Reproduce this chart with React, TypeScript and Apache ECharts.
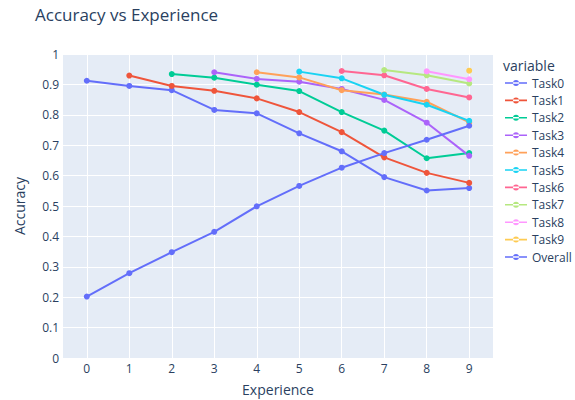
import React, { useEffect, useRef } from "react";
import * as echarts from "echarts";

const experience = [0, 1, 2, 3, 4, 5, 6, 7, 8, 9];
const yTicks = [0, 0.1, 0.2, 0.3, 0.4, 0.5, 0.6, 0.7, 0.8, 0.9, 1];

const task0 = [0.912, 0.895, 0.881, 0.816, 0.805, 0.739, 0.68, 0.595, 0.551, 0.559];
const task1 = [0.929, 0.895, 0.879, 0.854, 0.809, 0.743, 0.66, 0.609, 0.576];
const task2 = [0.934, 0.922, 0.899, 0.878, 0.809, 0.748, 0.657, 0.674];
const task3 = [0.94, 0.918, 0.909, 0.885, 0.849, 0.774, 0.665];
const task4 = [0.94, 0.923, 0.881, 0.867, 0.843, 0.775];
const task5 = [0.942, 0.92, 0.866, 0.833, 0.78];
const task6 = [0.944, 0.93, 0.885, 0.857];
const task7 = [0.947, 0.93, 0.903];
const task8 = [0.943, 0.917];
const task9 = [0.945];
const overall = [0.202, 0.279, 0.348, 0.415, 0.499, 0.566, 0.626, 0.674, 0.718, 0.764];

const seriesNames = ["Task0", "Task1", "Task2", "Task3", "Task4", "Task5", "Task6", "Task7", "Task8", "Task9", "Overall"];
const seriesValues = [task0, task1, task2, task3, task4, task5, task6, task7, task8, task9, overall];
const seriesStart = [0, 1, 2, 3, 4, 5, 6, 7, 8, 9, 0];
const colors = ["#636EFA", "#EF553B", "#00CC96", "#AB63FA", "#FFA15A", "#19D3F3", "#FF6692", "#B6E880", "#FF97FF", "#FECB52", "#636EFA"];

const FONT = "'Open Sans', verdana, arial, sans-serif";
const TEXT = "#2a3f5f";
const LEGEND_ICON = "path://M0,2.2 L22,2.2 L22,3.8 L0,3.8 Z M8,3 A3,3 0 1,0 14,3 A3,3 0 1,0 8,3 Z";

export default function App() {
  const ref = useRef<HTMLDivElement>(null);
  useEffect(() => {
    document.body.style.margin = "0";
    if (!ref.current) return;
    const chart = echarts.init(ref.current, undefined, { renderer: "svg" });
    const series = seriesNames.map((name, i) => ({
      name,
      type: "line",
      data: seriesValues[i].map((v, j) => [experience[seriesStart[i] + j], v]),
      symbol: "circle",
      symbolSize: 6,
      showSymbol: true,
      lineStyle: { width: 2, color: colors[i] },
      itemStyle: { color: colors[i] },
      emphasis: { disabled: true },
    }));
    chart.setOption({
      animation: false,
      textStyle: { fontFamily: FONT },
      title: {
        text: "Accuracy vs Experience",
        left: 30,
        top: 1,
        textStyle: { fontFamily: FONT, fontSize: 17, fontWeight: "normal", color: TEXT },
      },
      graphic: [
        {
          type: "text",
          left: 503,
          top: 58,
          style: { text: "variable", fontFamily: FONT, fontSize: 14, fill: TEXT },
        },
      ],
      legend: {
        orient: "vertical",
        left: 505,
        top: 77,
        padding: 0,
        itemGap: 5.4,
        itemWidth: 22,
        itemHeight: 6,
        icon: LEGEND_ICON,
        data: seriesNames,
        textStyle: { fontFamily: FONT, fontSize: 12, color: TEXT },
        selectedMode: false,
      },
      grid: {
        left: 63,
        right: 82,
        top: 54,
        bottom: 42,
        outerBoundsMode: "none",
        containLabel: false,
        show: true,
        backgroundColor: "#E5ECF6",
        borderWidth: 0,
      },
      xAxis: {
        type: "value",
        min: -0.56,
        max: 9.56,
        name: "Experience",
        nameLocation: "middle",
        nameGap: 24,
        nameTextStyle: { fontFamily: FONT, fontSize: 14, color: TEXT },
        axisLine: { show: false },
        axisTick: { show: false, customValues: experience },
        axisLabel: { customValues: experience, color: TEXT, fontSize: 12, fontFamily: FONT, margin: 4 },
        splitLine: { show: true, lineStyle: { color: "#ffffff", width: 1 } },
      },
      yAxis: {
        type: "value",
        min: 0,
        max: 1,
        interval: 0.1,
        name: "Accuracy",
        nameLocation: "middle",
        nameGap: 37,
        nameTextStyle: { fontFamily: FONT, fontSize: 14, color: TEXT },
        axisLine: { show: false },
        axisTick: { show: false },
        axisLabel: {
          color: TEXT,
          fontSize: 12,
          fontFamily: FONT,
          margin: 4,
          formatter: (v: number) => {
            const t = yTicks.find((k) => Math.abs(k - v) < 1e-9);
            return String(t !== undefined ? t : Math.round(v * 10) / 10);
          },
        },
        splitLine: { show: true, lineStyle: { color: "#ffffff", width: 1 } },
      },
      series,
    });
    return () => chart.dispose();
  }, []);
  return <div ref={ref} style={{ width: 575, height: 400 }} />;
}
